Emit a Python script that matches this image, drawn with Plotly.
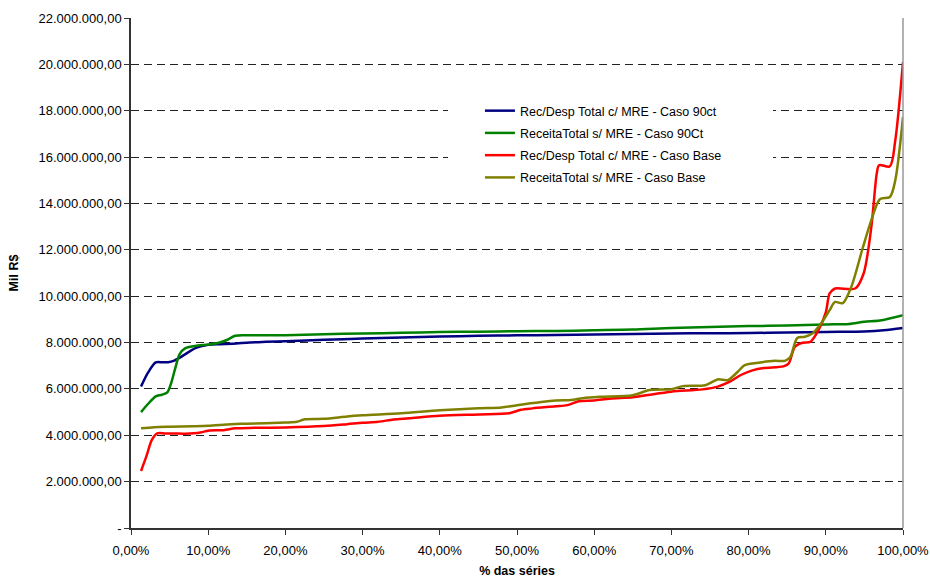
import plotly.graph_objects as go

# Percent of series (x, in %) and values (millions of R$) per curve
blue_x = [1.3, 2.2, 3.2, 4.0, 4.8, 5.6, 6.5, 7.5, 8.5, 10, 11.5, 13.2, 15.4, 17.5, 20, 25, 30, 35,
          40, 45, 50, 55, 60, 65, 70, 75, 80, 85, 90, 95, 97.5, 100]
blue_y = [6.1, 6.7, 7.14, 7.15, 7.15, 7.22, 7.38, 7.6, 7.78, 7.9, 7.93, 7.95, 8.0, 8.03, 8.06, 8.12,
          8.17, 8.22, 8.26, 8.29, 8.31, 8.33, 8.35, 8.37, 8.39, 8.4, 8.41, 8.43, 8.46, 8.48, 8.53, 8.63]

green_x = [1.3, 2.2, 3.2, 4.0, 4.7, 5.2, 5.7, 6.3, 7.0, 8.3, 10.2, 11.5, 12.5, 13.5, 15, 20, 25, 30,
           35, 40, 45, 50, 55, 60, 65, 70, 75, 80, 85, 90, 93, 95, 97, 100]
green_y = [5.0, 5.35, 5.68, 5.75, 5.85, 6.25, 6.85, 7.5, 7.75, 7.85, 7.92, 8.0, 8.12, 8.29, 8.31,
           8.32, 8.36, 8.39, 8.42, 8.45, 8.47, 8.49, 8.5, 8.53, 8.56, 8.63, 8.67, 8.71, 8.73, 8.78,
           8.8, 8.9, 8.95, 9.18]

red_x = [1.3, 2.0, 2.7, 3.4, 4.4, 5.5, 7, 9, 10, 12, 13.5, 16, 20, 25, 28, 30, 32, 34, 36, 40, 45,
         49, 50.5, 52, 55, 56.5, 58, 60, 62, 65, 67, 70, 74, 76, 77.5, 79, 80.5, 82, 84.5, 85.2, 86,
         87, 88, 89, 90, 90.5, 91.2, 93.8, 94.9, 95.9, 96.6, 96.9, 98.3, 99, 100]
red_y = [2.46, 3.1, 3.8, 4.08, 4.08, 4.08, 4.07, 4.12, 4.2, 4.22, 4.3, 4.32, 4.34, 4.4, 4.48, 4.54,
         4.58, 4.68, 4.73, 4.84, 4.9, 4.95, 5.1, 5.16, 5.25, 5.3, 5.47, 5.5, 5.58, 5.64, 5.74, 5.88,
         5.98, 6.1, 6.3, 6.6, 6.8, 6.9, 6.97, 7.1, 7.82, 7.99, 8.03, 8.5, 9.3, 10.12, 10.33, 10.33,
         10.98, 12.99, 15.29, 15.65, 15.6, 16.72, 20.1]

olive_x = [1.3, 3, 5, 8, 10, 13, 15, 20, 21.5, 22.5, 25, 28, 30, 35, 40, 45, 48, 50, 55, 57, 58.5,
           60.7, 65, 67.2, 70, 71.5, 74.4, 76, 77.3, 78.6, 79.5, 81.5, 83.4, 84.7, 85.4, 86.3, 87.3,
           88.3, 89.4, 90.5, 91.2, 92.2, 93.3, 94.8, 95.9, 97, 98.3, 99, 100]
olive_y = [4.3, 4.35, 4.37, 4.39, 4.41, 4.48, 4.5, 4.55, 4.58, 4.69, 4.71, 4.81, 4.86, 4.95, 5.08,
           5.17, 5.2, 5.3, 5.5, 5.52, 5.6, 5.66, 5.73, 5.95, 5.99, 6.12, 6.16, 6.41, 6.38, 6.74, 7.03,
           7.14, 7.21, 7.21, 7.38, 8.2, 8.25, 8.4, 8.83, 9.4, 9.75, 9.7, 10.4, 12.1, 13.28, 14.18,
           14.28, 15.0, 17.73]

series_names = [
    "Rec/Desp Total c/ MRE - Caso 90ct",
    "ReceitaTotal s/ MRE - Caso 90Ct",
    "Rec/Desp Total c/ MRE - Caso Base",
    "ReceitaTotal s/ MRE - Caso Base",
]
series_colors = ["#000080", "#008000", "#FF0000", "#808000"]

y_ticks = list(range(0, 22000001, 2000000))
y_ticktext = ["-"] + ["{:,.2f}".format(v).replace(",", "X").replace(".", ",").replace("X", ".")
                      for v in y_ticks[1:]]
x_ticks = list(range(0, 101, 10))
x_ticktext = ["{:.2f}%".format(v).replace(".", ",") for v in x_ticks]

fig = go.Figure()
for i, (name, color, xs, ys) in enumerate(zip(series_names, series_colors,
                                              [blue_x, green_x, red_x, olive_x],
                                              [blue_y, green_y, red_y, olive_y])):
    fig.add_trace(go.Scatter(
        x=xs, y=[v * 1e6 for v in ys], name=name, mode="lines", legendgroup=f"g{i}",
        line=dict(color=color, width=2.5, shape="spline", smoothing=0.8),
    ))

font_family = "Liberation Sans, Arial, sans-serif"
fig.update_layout(
    width=930, height=578,
    margin=dict(l=131, r=27, t=18, b=50, autoexpand=False),
    paper_bgcolor="white", plot_bgcolor="white",
    font=dict(family=font_family, size=13, color="black"),
    showlegend=True,
    legend=dict(x=0.452, y=0.847, xanchor="left", yanchor="top",
                bgcolor="rgba(0,0,0,0)", font=dict(size=12.5, family=font_family),
                tracegroupgap=3, itemwidth=30),
    xaxis=dict(range=[0, 100], tickvals=x_ticks, ticktext=x_ticktext, automargin=False,
               showgrid=False, zeroline=False, showline=True, linecolor="#333333", linewidth=1.5,
               ticks="outside", ticklen=5, tickcolor="#333333", ticklabelstandoff=5,
               title=dict(text="<b>% das séries</b>", font=dict(size=12.5), standoff=11)),
    yaxis=dict(range=[0, 22000000], tickvals=y_ticks, ticktext=y_ticktext, automargin=False,
               showgrid=True, gridcolor="#222222", griddash="8px,5px", gridwidth=1,
               zeroline=False, showline=True, linecolor="#333333", linewidth=1.5,
               ticks="outside", ticklen=5, tickcolor="#333333",
               title=dict(text="<b>Mil R$</b>", font=dict(size=12.5), standoff=17)),
)
# White legend box covering the gridlines (no curve passes through this area)
fig.add_shape(type="rect", xref="paper", yref="paper", x0=0.4106, x1=0.8316, y0=0.659, y1=0.845,
              fillcolor="white", line=dict(width=0), layer="above")
# Plot-area border on the right side
fig.add_shape(type="line", xref="paper", yref="paper", x0=1, x1=1, y0=0, y1=1,
              line=dict(color="#999999", width=1.5))

fig.write_html("out.html")
